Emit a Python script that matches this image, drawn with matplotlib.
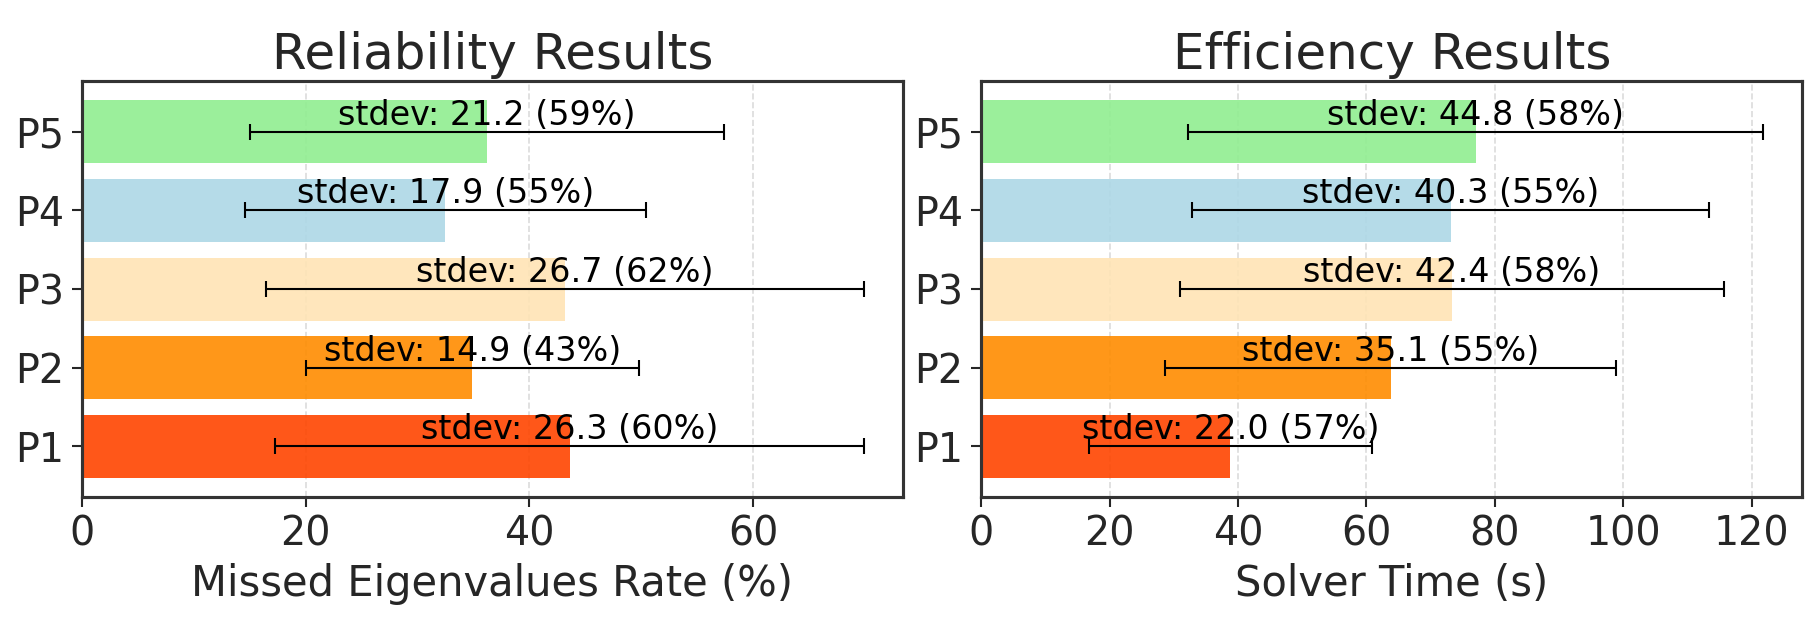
import numpy as np
import matplotlib
matplotlib.use('Agg')
import matplotlib.pyplot as plt
from matplotlib.ticker import MultipleLocator

# Data
phases = ['P1', 'P2', 'P3', 'P4', 'P5']
colors = ['orangered', 'darkorange', 'moccasin', 'lightblue', 'lightgreen']

missed_mean = [43.6, 34.9, 43.2, 32.5, 36.2]
missed_std = [26.3, 14.9, 26.7, 17.9, 21.2]

time_mean = [38.8, 63.8, 73.3, 73.1, 77.0]
time_std = [22.0, 35.1, 42.4, 40.3, 44.8]

plt.rcParams['font.family'] = 'DejaVu Sans'
plt.rcParams['text.color'] = '#262626'
plt.rcParams['axes.labelcolor'] = '#262626'
plt.rcParams['xtick.color'] = '#262626'
plt.rcParams['ytick.color'] = '#262626'

fig, axes = plt.subplots(1, 2, figsize=(1817 / 150, 617 / 150), dpi=150)
fig.subplots_adjust(left=0.045, right=0.992, bottom=0.195, top=0.868, wspace=0.095)


def draw(ax, means, stds, title, xlabel):
    y = np.arange(len(phases))
    ax.barh(y, means, height=0.8, color=colors, alpha=0.9, zorder=2)
    ax.errorbar(means, y, xerr=stds, fmt='none', ecolor='black',
                elinewidth=1, capsize=4, capthick=1, zorder=3)
    for i in range(len(phases)):
        pct = stds[i] / means[i] * 100
        ax.text(means[i], y[i], f'stdev: {stds[i]:.1f} ({pct:.0f}%)',
                ha='center', va='bottom', fontsize=16, color='black', zorder=4)
    ax.set_yticks(y)
    ax.set_yticklabels(phases)
    ax.xaxis.set_major_locator(MultipleLocator(20))
    ax.set_title(title, fontsize=24)
    ax.set_xlabel(xlabel, fontsize=20)
    ax.tick_params(axis='both', labelsize=19, length=5, width=1)
    ax.grid(axis='x', linestyle='--', color='#cccccc', alpha=0.7, zorder=0)
    ax.set_axisbelow(True)
    for s in ax.spines.values():
        s.set_color('#333333')
        s.set_linewidth(1.5)


draw(axes[0], missed_mean, missed_std, 'Reliability Results', 'Missed Eigenvalues Rate (%)')
draw(axes[1], time_mean, time_std, 'Efficiency Results', 'Solver Time (s)')

fig.savefig('out.png', dpi=150)
